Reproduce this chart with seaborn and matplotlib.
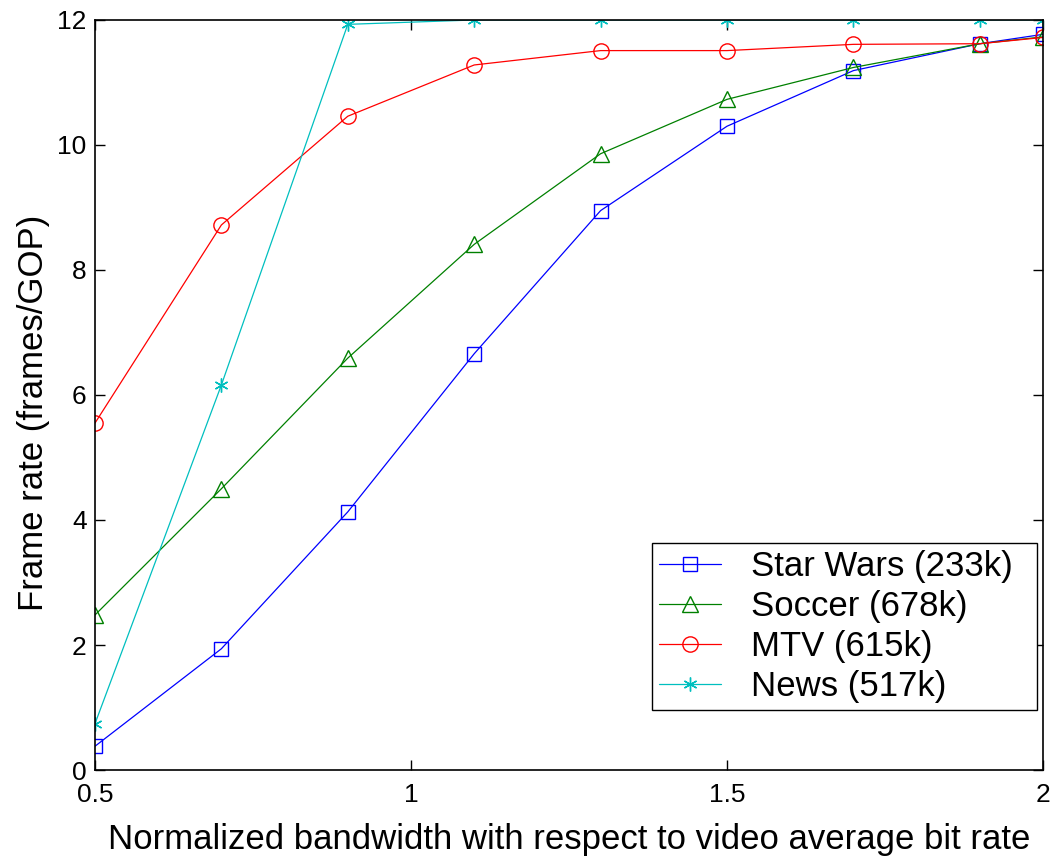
import numpy as np
import pandas as pd
import matplotlib
matplotlib.use("Agg")
import matplotlib.pyplot as plt
import seaborn as sns

# Normalized bandwidth (x) and achieved frame rate per clip
bandwidth = [0.5, 0.7, 0.9, 1.1, 1.3, 1.5, 1.7, 1.9, 2.0]
star_wars = [0.38, 1.94, 4.13, 6.66, 8.95, 10.30, 11.19, 11.62, 11.77]
soccer = [2.48, 4.50, 6.59, 8.41, 9.86, 10.73, 11.24, 11.62, 11.73]
mtv = [5.55, 8.72, 10.46, 11.28, 11.51, 11.51, 11.61, 11.62, 11.72]
news = [0.74, 6.16, 11.93, 12.0, 12.0, 12.0, 12.0, 12.0, 12.0]

series_names = ["Star Wars (233k)", "Soccer (678k)", "MTV (615k)", "News (517k)"]
series_values = [star_wars, soccer, mtv, news]

x_ticks = [0.5, 1, 1.5, 2]
x_tick_labels = ["0.5", "1", "1.5", "2"]
y_ticks = [0, 2, 4, 6, 8, 10, 12]

colors = ["#0000ff", "#008000", "#ff0000", "#00bfbf"]
markers = ["s", "^", "o", (6, 2, 0)]
marker_sizes = [10, 11, 11, 10]

sns.set_theme(style="white")
plt.rcParams["font.family"] = ["Liberation Sans", "DejaVu Sans"]
plt.rcParams["text.color"] = "black"
plt.rcParams["axes.labelcolor"] = "black"

fig = plt.figure(figsize=(10.54, 8.57), dpi=100)
ax = fig.add_axes([0.0901, 0.1015, 0.8995, 0.8752])

for name, vals, col, mk, ms in zip(series_names, series_values, colors, markers, marker_sizes):
    df = pd.DataFrame({"bandwidth": bandwidth, "rate": vals})
    sns.lineplot(data=df, x="bandwidth", y="rate", ax=ax, color=col,
                 marker=mk, markersize=ms, markerfacecolor="none",
                 markeredgecolor=col, markeredgewidth=1.0, linewidth=0.9,
                 label=name, legend=False)

ax.set_xlim(0.5, 2)
ax.set_ylim(0, 12)
ax.set_xticks(x_ticks)
ax.set_xticklabels(x_tick_labels)
ax.set_yticks(y_ticks)

ax.tick_params(axis="both", direction="in", length=7, width=1.0,
               labelsize=19, colors="black", top=True, right=True,
               bottom=True, left=True)
ax.tick_params(axis="y", pad=6)
ax.tick_params(axis="x", pad=9)
for sp in ax.spines.values():
    sp.set_visible(True)
    sp.set_color("black")
    sp.set_linewidth(1.2)

ax.set_xlabel("Normalized bandwidth with respect to video average bit rate",
              fontsize=25, color="black", labelpad=12)
ax.set_ylabel("Frame rate (frames/GOP)", fontsize=25, color="black")
ax.yaxis.set_label_coords(-0.0475, 0.476)

handles, labels = ax.get_legend_handles_labels()
leg = ax.legend(handles, labels, loc="lower left", mode="expand", fontsize=25,
                frameon=True, fancybox=False, edgecolor="black",
                framealpha=1, handlelength=1.8, labelspacing=0.2,
                borderpad=0.2, handletextpad=0.85, borderaxespad=0,
                bbox_to_anchor=(0.5876, 0.08, 0.4061, 0.2))
leg.get_frame().set_linewidth(1.0)
for t in leg.get_texts():
    t.set_color("black")

fig.savefig("out.png", dpi=100, facecolor="white")
